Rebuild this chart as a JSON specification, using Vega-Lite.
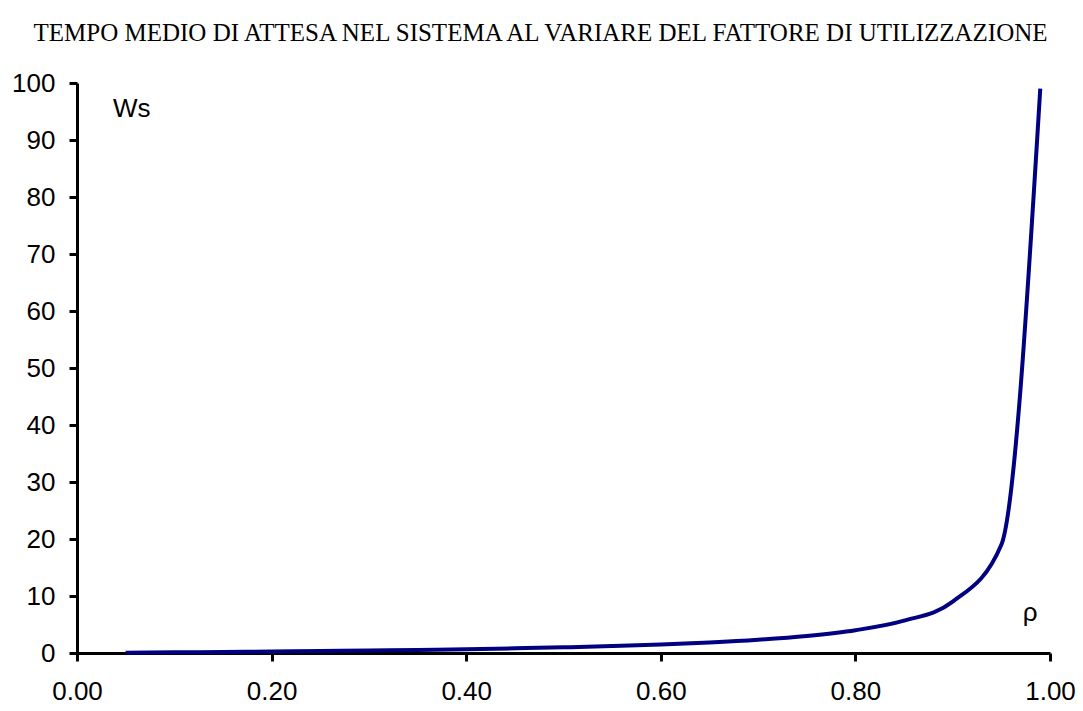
{
  "$schema": "https://vega.github.io/schema/vega-lite/v6.json",
  "autosize": {"type": "none"},
  "width": 973,
  "height": 570,
  "padding": {"left": 77, "top": 83, "right": 33, "bottom": 58},
  "background": "white",
  "title": {
    "text": "TEMPO MEDIO DI ATTESA NEL SISTEMA AL VARIARE DEL FATTORE DI UTILIZZAZIONE",
    "font": "Liberation Serif",
    "fontSize": 25,
    "fontWeight": "normal",
    "color": "black",
    "anchor": "middle",
    "offset": 24,
    "dx": -23
  },
  "config": {
    "view": {"stroke": null},
    "axis": {
      "grid": false,
      "domainColor": "black",
      "domainWidth": 3,
      "tickColor": "black",
      "tickWidth": 3,
      "tickSize": 8,
      "labelFont": "Liberation Sans",
      "labelFontSize": 26,
      "labelColor": "black",
      "title": null
    }
  },
  "layer": [
    {
      "data": {
        "values": [
          {"rho": 0.05, "ws": 0.0526},
          {"rho": 0.10, "ws": 0.1111},
          {"rho": 0.15, "ws": 0.1765},
          {"rho": 0.20, "ws": 0.25},
          {"rho": 0.25, "ws": 0.3333},
          {"rho": 0.30, "ws": 0.4286},
          {"rho": 0.35, "ws": 0.5385},
          {"rho": 0.40, "ws": 0.6667},
          {"rho": 0.45, "ws": 0.8182},
          {"rho": 0.50, "ws": 1.0},
          {"rho": 0.55, "ws": 1.2222},
          {"rho": 0.60, "ws": 1.5},
          {"rho": 0.65, "ws": 1.8571},
          {"rho": 0.70, "ws": 2.3333},
          {"rho": 0.75, "ws": 3.0},
          {"rho": 0.80, "ws": 4.0},
          {"rho": 0.85, "ws": 5.6667},
          {"rho": 0.90, "ws": 9.0},
          {"rho": 0.95, "ws": 19.0},
          {"rho": 0.99, "ws": 99.0}
        ]
      },
      "mark": {"type": "line", "color": "#000080", "strokeWidth": 4, "interpolate": "monotone"},
      "encoding": {
        "x": {
          "field": "rho", "type": "quantitative",
          "scale": {"domain": [0, 1], "nice": false, "zero": true},
          "axis": {"values": [0, 0.2, 0.4, 0.6, 0.8, 1.0], "format": ".2f", "labelPadding": 17, "labelFlush": false}
        },
        "y": {
          "field": "ws", "type": "quantitative",
          "scale": {"domain": [0, 100], "nice": false},
          "axis": {"values": [0, 10, 20, 30, 40, 50, 60, 70, 80, 90, 100], "labelPadding": 14, "labelFlush": false}
        }
      }
    },
    {
      "data": {"values": [
        {"rho": 0.037, "ws": 95.5, "label": "Ws"},
        {"rho": 0.972, "ws": 7, "label": "ρ"}
      ]},
      "mark": {"type": "text", "font": "Liberation Sans", "fontSize": 26, "align": "left", "baseline": "middle", "color": "black"},
      "encoding": {
        "x": {"field": "rho", "type": "quantitative"},
        "y": {"field": "ws", "type": "quantitative"},
        "text": {"field": "label"}
      }
    }
  ]
}
